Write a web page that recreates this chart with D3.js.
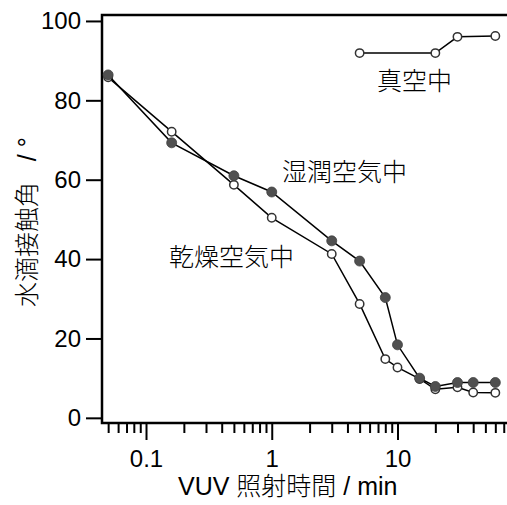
<!DOCTYPE html>
<html>
<head>
<meta charset="utf-8">
<script src="https://cdn.jsdelivr.net/npm/d3@7"></script>
<style>
  html, body { margin: 0; padding: 0; background: #fff; }
  svg { display: block; }
  text { font-family: "Liberation Sans", "Noto Sans CJK JP", sans-serif; fill: #000; }
  .jp { font-weight: 300; }
</style>
</head>
<body>
<svg id="chart"></svg>
<script>
// irradiation time (min)
var times = [0.05, 0.16, 0.5, 1, 3, 5, 8, 10, 15, 20, 30, 40, 60]
// contact angle (deg)
var wetAir = [86.4, 69.3, 61.0, 56.9, 44.6, 39.5, 30.3, 18.4, 10.0, 7.9, 8.9, 8.9, 8.9]
var dryAir = [85.8, 72.1, 58.7, 50.4, 41.3, 28.7, 14.8, 12.7, 9.8, 7.2, 7.7, 6.4, 6.3]
var vacuumTimes = [5, 20, 30, 60]
var vacuum = [91.9, 91.9, 96.0, 96.2]

var yTicks = [0, 20, 40, 60, 80, 100]
var xMajor = [0.1, 1, 10]
var xMinor = [0.05, 0.06, 0.07, 0.08, 0.09, 0.2, 0.3, 0.4, 0.5, 0.6, 0.7, 0.8, 0.9,
  2, 3, 4, 5, 6, 7, 8, 9, 20, 30, 40, 50, 60, 70]

;(function () {
  var WIDTH = 507
  var HEIGHT = 505
  var left = 102
  var right = 507
  var top = 15
  var bottom = 423

  var svg = d3.select('#chart')
    .attr('width', WIDTH)
    .attr('height', HEIGHT)

  var x = d3.scaleLog().domain([0.04467, 74.3]).range([left, right])
  var y = d3.scaleLinear().domain([-1.3, 101.5]).range([bottom, top])

  // Axes
  var yAxis = svg.append('g')
    .attr('transform', 'translate(' + left + ',0)')
    .call(d3.axisLeft(y).tickValues(yTicks).tickSize(16).tickSizeOuter(0).tickPadding(5))
  yAxis.select('.domain').remove()
  yAxis.selectAll('line').attr('stroke', '#000').attr('stroke-width', 2)
  yAxis.selectAll('text').style('font-size', '24px')

  var xAxis = svg.append('g')
    .attr('transform', 'translate(0,' + bottom + ')')
    .call(d3.axisBottom(x).tickValues(xMajor).tickSize(17).tickSizeOuter(0).tickPadding(10)
      .tickFormat(function (d) { return String(d) }))
  xAxis.select('.domain').remove()
  xAxis.selectAll('line').attr('stroke', '#000').attr('stroke-width', 2)
  xAxis.selectAll('text').style('font-size', '24px')

  var xMinorAxis = svg.append('g')
    .attr('transform', 'translate(0,' + bottom + ')')
    .call(d3.axisBottom(x).tickValues(xMinor).tickSize(10).tickSizeOuter(0).tickFormat(''))
  xMinorAxis.select('.domain').remove()
  xMinorAxis.selectAll('line').attr('stroke', '#000').attr('stroke-width', 2)

  // Frame (left, top, bottom)
  svg.append('path')
    .attr('d', 'M' + right + ',' + top + 'H' + left + 'V' + bottom + 'H' + right)
    .attr('fill', 'none')
    .attr('stroke', '#000')
    .attr('stroke-width', 2.5)

  var line = d3.line()
    .x(function (d) { return x(d[0]) })
    .y(function (d) { return y(d[1]) })

  function drawSeries (xs, ys, filled) {
    var pts = xs.map(function (t, i) { return [t, ys[i]] })
    var g = svg.append('g')
    g.append('path')
      .datum(pts)
      .attr('d', line)
      .attr('fill', 'none')
      .attr('stroke', '#000')
      .attr('stroke-width', 1.5)
    g.selectAll('circle')
      .data(pts)
      .enter().append('circle')
      .attr('cx', function (d) { return x(d[0]) })
      .attr('cy', function (d) { return y(d[1]) })
      .attr('r', filled ? 5 : 4.2)
      .attr('fill', filled ? '#505050' : '#fff')
      .attr('stroke', filled ? '#404040' : '#333')
      .attr('stroke-width', filled ? 0.8 : 1.5)
  }

  drawSeries(vacuumTimes, vacuum, false)
  drawSeries(times, dryAir, false)
  drawSeries(times, wetAir, true)

  // Labels
  function label (txt, lx, ly) {
    svg.append('text')
      .attr('class', 'jp')
      .attr('x', lx)
      .attr('y', ly)
      .style('font-size', '25px')
      .text(txt)
  }
  label('真空中', 377, 90)
  label('湿潤空気中', 282, 181)
  label('乾燥空気中', 169, 266)

  svg.append('text')
    .attr('class', 'jp')
    .attr('x', 178)
    .attr('y', 495)
    .style('font-size', '25px')
    .style('white-space', 'pre')
    .text('VUV 照射時間 / min')

  svg.append('text')
    .attr('class', 'jp')
    .attr('transform', 'translate(36,307) rotate(-90)')
    .style('font-size', '25px')
    .style('white-space', 'pre')
    .text('水滴接触角   / °')
})()
</script>
</body>
</html>
